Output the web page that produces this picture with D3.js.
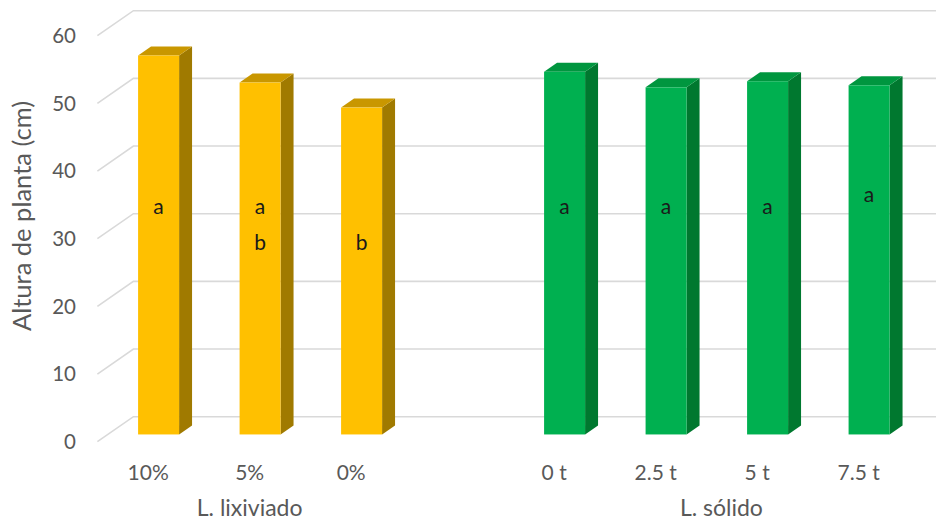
<!DOCTYPE html>
<html>
<head>
<meta charset="utf-8">
<script src="https://cdn.jsdelivr.net/npm/d3@7"></script>
<style>
  html, body { margin: 0; padding: 0; background: #ffffff; }
  svg { display: block; }
  text { font-family: "Lato", "Noto Sans", sans-serif; }
</style>
</head>
<body>
<svg id="chart" width="936" height="523"></svg>
<script>
// Plant height by treatment, two treatment groups
const groupNames = ["L. lixiviado", "L. sólido"];
const lixCategories = ["10%", "5%", "0%"];
const lixHeights = [56, 52, 48.3];
const lixLetters = [["a"], ["a", "b"], ["b"]];
const solCategories = ["0 t", "2.5 t", "5 t", "7.5 t"];
const solHeights = [53.6, 51.3, 52.2, 51.6];
const solLetters = [["a"], ["a"], ["a"], ["a"]];
const yTicks = [0, 10, 20, 30, 40, 50, 60];
const yTitle = "Altura de planta (cm)";

const W = 936, H = 523;
const svg = d3.select("#chart");

// Oblique 3D projection: front plane, with depth running up and to the right
const depth = { dx: 36, dy: -25 };
const barFront = 0.29, barBack = 0.65;   // bar slab position inside the depth

const spacer = "__gap__";
const slots = [...lixCategories, spacer, ...solCategories];

const x = d3.scaleBand()
  .domain(slots)
  .range([97.4, 909.4])
  .paddingInner(0.596)
  .paddingOuter(0.298);

const y = d3.scaleLinear().domain([0, 60]).range([441.7, 35.7]);

const gridColor = "#d9d9d9";
const textColor = "#595959";

// Walls: floor/side diagonals and back-wall gridlines
const grid = svg.append("g");
const x0 = x.range()[0], x1 = x.range()[1];
yTicks.forEach(t => {
  const yf = y(t);
  grid.append("path")
    .attr("d", `M${x0},${yf} L${x0 + depth.dx},${yf + depth.dy} L${x1 + depth.dx},${yf + depth.dy}`)
    .attr("fill", "none")
    .attr("stroke", gridColor)
    .attr("stroke-width", 1.6);
});

// Y tick labels
svg.append("g").selectAll("text")
  .data(yTicks)
  .join("text")
  .attr("x", 76)
  .attr("y", d => y(d))
  .attr("dy", "0.36em")
  .attr("text-anchor", "end")
  .attr("font-size", 20.5)
  .attr("fill", textColor)
  .text(d => d);

// Y axis title
svg.append("text")
  .attr("transform", "translate(31,216) rotate(-90)")
  .attr("text-anchor", "middle")
  .attr("font-size", 25.5)
  .attr("fill", textColor)
  .text(yTitle);

const palettes = [
  { front: "#FFC000", top: "#C99700", side: "#A07A00" },
  { front: "#00B050", top: "#00963F", side: "#00782F" }
];

const bars = [
  ...lixCategories.map((c, i) => ({ cat: c, v: lixHeights[i], letters: lixLetters[i], pal: palettes[0] })),
  ...solCategories.map((c, i) => ({ cat: c, v: solHeights[i], letters: solLetters[i], pal: palettes[1] }))
];

// Bars as 3D slabs: front, top and right side faces
const barG = svg.append("g");
bars.forEach(b => {
  const bx = x(b.cat), bw = x.bandwidth();
  const fdx = depth.dx * barFront, fdy = depth.dy * barFront;
  const bdx = depth.dx * barBack, bdy = depth.dy * barBack;
  const yb = y(0), yt = y(b.v);
  const L = bx + fdx, R = bx + bw + fdx;
  const B = yb + fdy, T = yt + fdy;
  const ddx = bdx - fdx, ddy = bdy - fdy;
  const g = barG.append("g");
  g.append("path")
    .attr("d", `M${R},${T} L${R + ddx},${T + ddy} L${R + ddx},${B + ddy} L${R},${B} Z`)
    .attr("fill", b.pal.side);
  g.append("path")
    .attr("d", `M${L},${T} L${L + ddx},${T + ddy} L${R + ddx},${T + ddy} L${R},${T} Z`)
    .attr("fill", b.pal.top);
  g.append("rect")
    .attr("x", L).attr("y", T)
    .attr("width", bw).attr("height", B - T)
    .attr("fill", b.pal.front);
});

// Significance letters on each bar
const letterRows = [207, 243];
const letterNudge = { "7.5 t": -12 };
const letterG = svg.append("g");
bars.forEach(b => {
  const cx = x(b.cat) + x.bandwidth() / 2 + depth.dx * barFront;
  b.letters.forEach((l, k) => {
    letterG.append("text")
      .attr("x", cx)
      .attr("y", letterRows[l === "a" ? 0 : 1] + (letterNudge[b.cat] || 0))
      .attr("dy", "0.35em")
      .attr("text-anchor", "middle")
      .attr("font-size", 21)
      .attr("fill", "#1a1a1a")
      .text(l);
  });
});

// Category labels on the front floor edge
const catG = svg.append("g");
bars.forEach(b => {
  catG.append("text")
    .attr("x", x(b.cat) + x.bandwidth() / 2)
    .attr("y", 473)
    .attr("dy", "0.35em")
    .attr("text-anchor", "middle")
    .attr("font-size", 21)
    .attr("fill", textColor)
    .text(b.cat);
});

// Group labels
const groupCenters = [
  d3.mean(lixCategories, c => x(c) + x.bandwidth() / 2),
  d3.mean(solCategories, c => x(c) + x.bandwidth() / 2) + 15
];
groupNames.forEach((n, i) => {
  svg.append("text")
    .attr("x", groupCenters[i])
    .attr("y", 508)
    .attr("dy", "0.35em")
    .attr("text-anchor", "middle")
    .attr("font-size", 23)
    .attr("fill", textColor)
    .text(n);
});
</script>
</body>
</html>
